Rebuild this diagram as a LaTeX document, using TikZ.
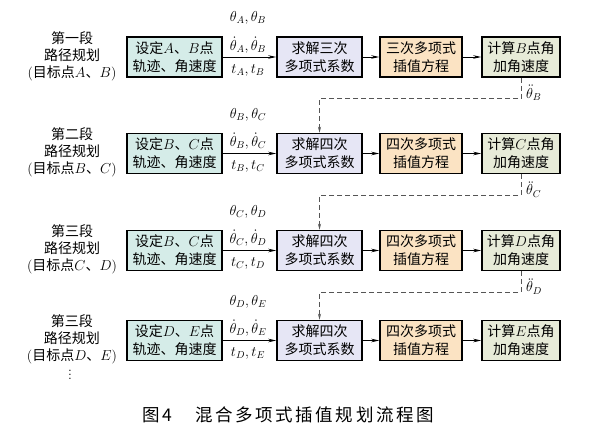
\documentclass[tikz,border=0pt]{standalone}
\usepackage{fontspec}
\newfontfamily\cjk{Noto Sans CJK SC}
\newfontfamily\cjkcap[LetterSpace=15]{Noto Sans CJK SC}
\usetikzlibrary{arrows.meta}
\definecolor{cA}{HTML}{D5ECE8}
\definecolor{cB}{HTML}{E6E6F5}
\definecolor{cC}{HTML}{FBE3C3}
\definecolor{cD}{HTML}{E7EBD8}
\definecolor{dashgray}{HTML}{555555}
\begin{document}
\begin{tikzpicture}[x=1pt,y=-1pt,
  box/.style={draw=black,line width=1.5pt,minimum height=40pt,inner sep=0pt,align=center,
    font=\cjk\fontsize{14}{18}\selectfont},
  lab/.style={inner sep=0pt,font=\fontsize{14}{16}\selectfont},
  side/.style={inner sep=0pt,align=center,font=\cjk\fontsize{14}{17}\selectfont},
  flow/.style={line width=0.8pt,-{Stealth[length=8pt,width=3.5pt]}},
  fb/.style={dashgray,line width=0.8pt,dash pattern=on 5pt off 3pt,-{Stealth[length=6pt,width=3pt]}}]
\fill[white] (0,0) rectangle (594,439);
\useasboundingbox (0,0) rectangle (594,439);
\foreach \r/\y/\seg/\U/\V/\P/\Q/\ord/\calc in {
  1/57/一/A/B/A/B/三/B,
  2/153.5/二/B/C/B/C/四/C,
  3/250.5/三/B/C/C/D/四/D,
  4/340.5/三/D/E/D/E/四/E}{
  \node[side] (s\r) at (72,{\y-1}) {第\seg 段\\路径规划\\{\normalfont(}目标点$\P$、$\Q${\normalfont)}};
  \node[box,fill=cA,minimum width=95pt] (a\r) at (174.5,\y) {设定$\U$、$\V$点\\轨迹、角速度};
  \node[box,fill=cB,minimum width=85pt] (b\r) at (319.5,\y) {求解\ord 次\\多项式系数};
  \node[box,fill=cC,minimum width=82pt] (c\r) at (421,\y) {\ord 次多项式\\插值方程};
  \node[box,fill=cD,minimum width=78pt] (d\r) at (521,\y) {计算$\calc$点角\\加角速度};
  \draw[flow] (a\r) -- (b\r);
  \draw[flow] (b\r) -- (c\r);
  \draw[flow] (c\r) -- (d\r);
  \node[lab] (p\r) at (248,{\y-39}) {$\theta_{\P},\theta_{\Q}$};
  \node[lab] (v\r) at (248,{\y-12}) {$\dot\theta_{\P},\dot\theta_{\Q}$};
  \node[lab] (t\r) at (248,{\y+13}) {$t_{\P},t_{\Q}$};
}
\foreach \r/\n/\L in {1/2/B,2/3/C,3/4/D}{
  \draw[fb] (d\r.south) -- ++(0,21) -| (b\n.north);
  \node[lab,anchor=west] (q\r) at ([xshift=5pt,yshift=-15pt]d\r.south) {$\ddot\theta_{\L}$};
}
\node[inner sep=0pt,font=\fontsize{14}{16}\selectfont] (dots) at (70,372) {$\vdots$};
\node[inner sep=0pt,anchor=west,font=\cjkcap\fontsize{17.5}{20}\selectfont] (cap) at (142,415) {图\,4\hspace{1.3em}混合多项式插值规划流程图};
\end{tikzpicture}
\end{document}
